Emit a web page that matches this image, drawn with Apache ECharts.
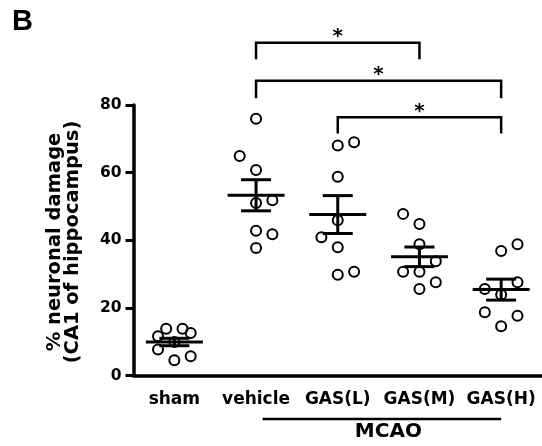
<!DOCTYPE html>
<html>
<head>
<meta charset="utf-8">
<script src="https://cdn.jsdelivr.net/npm/echarts@6/dist/echarts.min.js"></script>
<style>
html,body{margin:0;padding:0;background:#fff;}
#chart{width:542px;height:446px;}
</style>
</head>
<body>
<div id="chart"></div>
<script>
// ---- data ----
const categories = ['sham', 'vehicle', 'GAS(L)', 'GAS(M)', 'GAS(H)'];

const shamValues    = [13.8, 13.8, 12.6, 11.6, 9.9, 7.7, 4.5, 5.7];
const shamOffsets   = [-0.1, 0.1, 0.2, -0.2, 0, -0.2, 0, 0.2];
const vehicleValues = [75.9, 64.9, 60.8, 51.0, 51.8, 42.8, 41.8, 37.7];
const vehicleOffsets= [0, -0.2, 0, 0, 0.2, 0, 0.2, 0];
const gasLValues    = [69.0, 68.0, 58.8, 45.9, 40.9, 37.9, 30.7, 29.8];
const gasLOffsets   = [0.2, 0, 0, 0, -0.2, 0, 0.2, 0];
const gasMValues    = [47.8, 44.8, 38.8, 33.8, 30.7, 30.7, 27.6, 25.6];
const gasMOffsets   = [-0.2, 0, 0, 0.2, -0.2, 0, 0.2, 0];
const gasHValues    = [38.8, 36.8, 27.6, 25.6, 23.9, 18.7, 17.7, 14.6];
const gasHOffsets   = [0.2, 0, 0.2, -0.2, 0, -0.2, 0.2, 0];

const groupMeans = [9.9, 53.3, 47.6, 35.1, 25.4];
const groupSEM   = [1.1, 4.6, 5.6, 2.9, 3.1];

// significance brackets: [from category, to category, top value, leg bottom value]
const bracketFrom   = [1, 1, 2];
const bracketTo     = [3, 4, 4];
const bracketTop    = [98.4, 87.2, 76.4];
const bracketBottom = [93.5, 82.0, 71.6];
const bracketMark   = ['*', '*', '*'];

// MCAO group line (category positions) and its value level
const mcaoFrom = 1.08, mcaoTo = 4.0, mcaoLevel = -12.9;
const mcaoLabel = 'MCAO', mcaoLabelX = 2.62, mcaoLabelLevel = -16.6;

const yTitleLines = ['% neuronal damage', '(CA1 of hippocampus)'];
const yMin = 0, yMax = 80, yInterval = 20;

// ---- build ----
const groups = [shamValues, vehicleValues, gasLValues, gasMValues, gasHValues];
const offsets = [shamOffsets, vehicleOffsets, gasLOffsets, gasMOffsets, gasHOffsets];
const scatterData = [];
groups.forEach((vals, gi) => {
  vals.forEach((v, k) => scatterData.push([gi + offsets[gi][k], v]));
});
const meanData = groupMeans.map((m, i) => [i, m, groupSEM[i]]);
const bracketData = bracketFrom.map((f, i) => [f, bracketTo[i], bracketTop[i], bracketBottom[i]]);

const FONT = 'DejaVu Sans';
const chart = echarts.init(document.getElementById('chart'), null, {renderer: 'canvas'});

chart.setOption({
  animation: false,
  backgroundColor: '#fff',
  grid: {left: 133.5, top: 105, width: 410, height: 270.5},
  xAxis: [{
    type: 'category',
    data: categories,
    axisLine: {onZero: false, lineStyle: {color: '#000', width: 3.5}},
    axisTick: {alignWithLabel: true, interval: 0, length: 8, lineStyle: {color: '#000', width: 3}},
    axisLabel: {interval: 0, color: '#000', fontFamily: FONT, fontWeight: 'bold', fontSize: 17, margin: 16},
    splitLine: {show: false}
  }, {
    type: 'value', min: -0.5, max: 4.5, show: false
  }],
  yAxis: {
    type: 'value', min: yMin, max: yMax, interval: yInterval,
    axisLine: {show: true, onZero: false, lineStyle: {color: '#000', width: 3.5}},
    axisTick: {show: true, length: 8, lineStyle: {color: '#000', width: 3}},
    axisLabel: {color: '#000', fontFamily: FONT, fontWeight: 'bold', fontSize: 15.5, margin: 12},
    splitLine: {show: false}
  },
  graphic: [
    {type: 'text', left: 12, top: 7, style: {text: 'B', font: 'bold 29px "Liberation Sans"', fill: '#000'}},
    {type: 'text', x: 55, y: 242, rotation: Math.PI / 2,
     style: {text: yTitleLines[0], font: 'bold 19.5px "DejaVu Sans"', fill: '#000', textAlign: 'center', textVerticalAlign: 'middle'}},
    {type: 'text', x: 73, y: 242, rotation: Math.PI / 2,
     style: {text: yTitleLines[1], font: 'bold 19.5px "DejaVu Sans"', fill: '#000', textAlign: 'center', textVerticalAlign: 'middle'}}
  ],
  series: [{
    type: 'scatter',
    xAxisIndex: 1,
    data: scatterData,
    symbol: 'circle',
    symbolSize: 10,
    itemStyle: {color: 'rgba(0,0,0,0)', borderColor: '#000', borderWidth: 2, opacity: 1},
    z: 2
  }, {
    type: 'custom',
    xAxisIndex: 1,
    data: meanData,
    z: 3,
    renderItem: function (params, api) {
      const c = api.coord([api.value(0), api.value(1)]);
      const hi = api.coord([api.value(0), api.value(1) + api.value(2)]);
      const lo = api.coord([api.value(0), api.value(1) - api.value(2)]);
      const st = {stroke: '#000', lineWidth: 3, fill: null};
      return {type: 'group', children: [
        {type: 'line', shape: {x1: c[0] - 28.5, y1: c[1], x2: c[0] + 28.5, y2: c[1]}, style: st},
        {type: 'line', shape: {x1: c[0], y1: hi[1], x2: c[0], y2: lo[1]}, style: st},
        {type: 'line', shape: {x1: c[0] - 15, y1: hi[1], x2: c[0] + 15, y2: hi[1]}, style: st},
        {type: 'line', shape: {x1: c[0] - 15, y1: lo[1], x2: c[0] + 15, y2: lo[1]}, style: st}
      ]};
    }
  }, {
    type: 'custom',
    xAxisIndex: 1,
    data: bracketData,
    clip: false,
    z: 3,
    renderItem: function (params, api) {
      const a = api.coord([api.value(0), api.value(2)]);
      const b = api.coord([api.value(1), api.value(2)]);
      const bot = api.coord([api.value(0), api.value(3)]);
      return {type: 'group', children: [
        {type: 'polyline', shape: {points: [[a[0], bot[1]], [a[0], a[1]], [b[0], b[1]], [b[0], bot[1]]]},
         style: {stroke: '#000', lineWidth: 2.5, fill: null}},
        {type: 'text', x: (a[0] + b[0]) / 2, y: a[1] - 5.5,
         style: {text: bracketMark[params.dataIndex], font: 'bold 20px "DejaVu Sans"', fill: '#000', textAlign: 'center', textVerticalAlign: 'middle'}}
      ]};
    }
  }, {
    type: 'custom',
    xAxisIndex: 1,
    data: [[mcaoFrom, mcaoTo, mcaoLevel, mcaoLabelX, mcaoLabelLevel]],
    clip: false,
    z: 3,
    renderItem: function (params, api) {
      const a = api.coord([api.value(0), api.value(2)]);
      const b = api.coord([api.value(1), api.value(2)]);
      const t = api.coord([api.value(3), api.value(4)]);
      return {type: 'group', children: [
        {type: 'line', shape: {x1: a[0], y1: a[1], x2: b[0], y2: b[1]}, style: {stroke: '#000', lineWidth: 2.5}},
        {type: 'text', x: t[0], y: t[1], style: {text: mcaoLabel, font: 'bold 20px "DejaVu Sans"', fill: '#000', textAlign: 'center', textVerticalAlign: 'middle'}}
      ]};
    }
  }]
});
</script>
</body>
</html>
